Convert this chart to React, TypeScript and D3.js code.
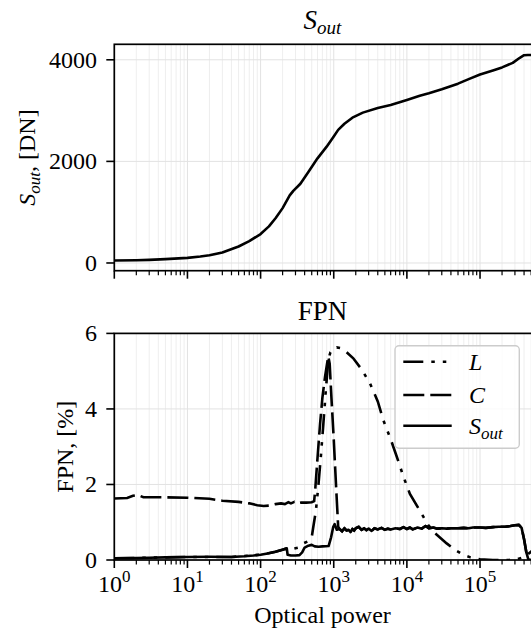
import React from "react";
import * as d3 from "d3";

// ---------- data ----------
const X_MAX = 5.2e5;
const X_MAJOR = [1, 10, 100, 1000, 10000, 100000];
const X_EXP = ["0", "1", "2", "3", "4", "5"];
const TOP_Y_TICKS = [0, 2000, 4000];
const BOT_Y_TICKS = [0, 2, 4, 6];

// top panel: S_out [DN] vs optical power
const SOUT_DN: [number, number][] = [
  [1, 50], [2, 55], [3, 62], [5, 75], [10, 100], [15, 128], [20, 152], [30, 205],
  [50, 325], [70, 430], [100, 570], [130, 720], [160, 880], [200, 1080], [250, 1330],
  [280, 1420], [350, 1560], [450, 1790], [600, 2060], [800, 2290], [1000, 2490],
  [1150, 2620], [1400, 2740], [1800, 2860], [2500, 2960], [4000, 3050], [6000, 3110],
  [10000, 3210], [15000, 3290], [20000, 3340], [30000, 3420], [50000, 3530],
  [70000, 3620], [100000, 3710], [150000, 3790], [200000, 3850], [280000, 3940],
  [350000, 4040], [400000, 4090], [450000, 4095], [520000, 4095],
];

// bottom panel: FPN [%]
const FPN_L: [number, number][] = [
  [1, 0.045], [10, 0.08], [40, 0.08], [100, 0.14], [160, 0.22], [228, 0.31], [280, 0.3],
  [330, 0.33], [384, 0.44], [450, 0.5], [500, 0.6], [526, 0.88], [570, 1.3], [615, 1.94],
  [670, 2.8], [721, 3.6], [780, 4.5], [843, 5.3], [900, 5.5], [1000, 5.6], [1100, 5.63],
  [1300, 5.6], [1500, 5.5], [1850, 5.34], [2400, 5.05], [3130, 4.68], [4000, 4.2],
  [4767, 3.7], [6000, 3.2], [7260, 2.74], [9000, 2.2], [11000, 1.75], [15100, 1.3],
  [19700, 0.92], [24500, 0.7], [35000, 0.44], [48000, 0.24], [60000, 0.13], [74000, 0.07],
  [100000, 0.02], [150000, 0.0], [250000, 0.0], [320000, 0.02], [400000, 0.08],
  [450000, 0.15], [520000, 0.25],
];

const FPN_C: [number, number][] = [
  [1, 1.63], [1.5, 1.64], [1.8, 1.7], [2.1, 1.72], [2.5, 1.66], [5, 1.66], [10, 1.65],
  [20, 1.62], [30, 1.57], [50, 1.54], [70, 1.5], [90, 1.45], [110, 1.43], [130, 1.44],
  [160, 1.48], [190, 1.5], [215, 1.48], [240, 1.53], [260, 1.5], [290, 1.54], [320, 1.5],
  [360, 1.52], [420, 1.52], [500, 1.53], [540, 1.56], [560, 1.9], [600, 2.7], [650, 3.6],
  [700, 4.3], [760, 4.85], [840, 5.39], [880, 5.2], [930, 4.3], [1000, 3.2], [1080, 1.9],
  [1150, 0.88], [1200, 0.82], [1300, 0.76], [1400, 0.84], [1500, 0.78], [1600, 0.8],
  [1700, 0.74], [1800, 0.82], [1900, 0.78], [2000, 0.84], [2200, 0.88], [2400, 0.8],
  [2600, 0.84], [2800, 0.79], [3000, 0.83], [3300, 0.77], [3600, 0.84], [4000, 0.81],
  [4500, 0.85], [5000, 0.8], [5500, 0.83], [6000, 0.81], [7000, 0.84], [8000, 0.82],
  [9000, 0.87], [10000, 0.82], [11000, 0.86], [12000, 0.81], [14000, 0.86], [16000, 0.83],
  [18000, 0.9], [20000, 0.84], [23000, 0.86], [26000, 0.83], [30000, 0.84], [35000, 0.83],
  [40000, 0.84], [50000, 0.84], [60000, 0.85], [70000, 0.84], [80000, 0.86], [100000, 0.86],
  [120000, 0.85], [150000, 0.87], [180000, 0.88], [220000, 0.88], [260000, 0.9],
  [300000, 0.92], [340000, 0.93], [370000, 0.85], [400000, 0.55], [430000, 0.2],
  [460000, 0.0], [520000, 0.0],
];

const FPN_SOUT: [number, number][] = [
  [1, 0.045], [2, 0.05], [3, 0.06], [5, 0.07], [10, 0.08], [20, 0.085], [40, 0.08],
  [60, 0.1], [80, 0.12], [100, 0.14], [130, 0.18], [160, 0.22], [200, 0.27], [228, 0.31],
  [234, 0.14], [260, 0.12], [300, 0.12], [340, 0.13], [370, 0.2], [400, 0.33], [450, 0.38],
  [500, 0.4], [550, 0.36], [620, 0.35], [700, 0.36], [850, 0.37], [920, 0.6], [985, 0.88],
  [1030, 0.95], [1100, 0.8], [1200, 0.82], [1300, 0.76], [1400, 0.84], [1500, 0.78],
  [1600, 0.8], [1700, 0.74], [1800, 0.82], [1900, 0.78], [2000, 0.84], [2200, 0.88],
  [2400, 0.8], [2600, 0.84], [2800, 0.79], [3000, 0.83], [3300, 0.77], [3600, 0.84],
  [4000, 0.81], [4500, 0.85], [5000, 0.8], [5500, 0.83], [6000, 0.81], [7000, 0.84],
  [8000, 0.82], [9000, 0.87], [10000, 0.82], [11000, 0.86], [12000, 0.81], [14000, 0.86],
  [16000, 0.83], [18000, 0.9], [20000, 0.84], [23000, 0.86], [26000, 0.83], [30000, 0.84],
  [35000, 0.83], [40000, 0.84], [50000, 0.84], [60000, 0.85], [70000, 0.84], [80000, 0.86],
  [100000, 0.86], [120000, 0.85], [150000, 0.87], [180000, 0.88], [220000, 0.88],
  [260000, 0.9], [300000, 0.92], [340000, 0.93], [370000, 0.85], [400000, 0.55],
  [430000, 0.2], [460000, 0.0], [520000, 0.0],
];

// ---------- layout ----------
const W = 531;
const H = 629;
const PL = 114.3;
const PR = 532.4;
const TOP = { t: 44.3, b: 270.7 };
const BOT = { t: 333.4, b: 560 };
const FONT = "'Liberation Serif', 'DejaVu Serif', serif";
const FS = 24;
const FSUB = 17;

const x = d3.scaleLog().domain([1, X_MAX]).range([PL, PR]);
const yTop = d3.scaleLinear().domain([-152, 4305]).range([TOP.b, TOP.t]);
const yBot = d3.scaleLinear().domain([0, 6]).range([BOT.b, BOT.t]);

const MINOR: number[] = [];
for (let e = 0; e <= 5; e++) {
  for (let k = 2; k <= 9; k++) {
    const v = k * Math.pow(10, e);
    if (v <= X_MAX) MINOR.push(v);
  }
}

function Panel({ y, yTicks, box, clipId, children }: any) {
  return (
    <g>
      <defs>
        <clipPath id={clipId}>
          <rect x={PL} y={box.t} width={PR - PL} height={box.b - box.t} />
        </clipPath>
      </defs>
      {MINOR.map((v) => (
        <line key={"mg" + v} x1={x(v)} x2={x(v)} y1={box.t} y2={box.b} stroke="#ececec" strokeWidth={0.9} />
      ))}
      {X_MAJOR.map((v) => (
        <line key={"Mg" + v} x1={x(v)} x2={x(v)} y1={box.t} y2={box.b} stroke="#e2e2e2" strokeWidth={1} />
      ))}
      {yTicks.map((t: number) => (
        <line key={"yg" + t} x1={PL} x2={PR} y1={y(t)} y2={y(t)} stroke="#e2e2e2" strokeWidth={1} />
      ))}
      <g clipPath={`url(#${clipId})`}>{children}</g>
      <rect x={PL} y={box.t} width={PR - PL} height={box.b - box.t} fill="none" stroke="#000" strokeWidth={1.7} />
      {yTicks.map((t: number) => (
        <line key={"yt" + t} x1={PL - 8} x2={PL} y1={y(t)} y2={y(t)} stroke="#000" strokeWidth={1.6} />
      ))}
      {X_MAJOR.map((v) => (
        <line key={"xt" + v} x1={x(v)} x2={x(v)} y1={box.b} y2={box.b + 8} stroke="#000" strokeWidth={1.6} />
      ))}
      {MINOR.map((v) => (
        <line key={"xm" + v} x1={x(v)} x2={x(v)} y1={box.b} y2={box.b + 4.6} stroke="#000" strokeWidth={1.2} />
      ))}
      {yTicks.map((t: number) => (
        <text key={"yl" + t} x={97} y={y(t) + 8} textAnchor="end" fontSize={FS} fontFamily={FONT}>
          {String(t)}
        </text>
      ))}
    </g>
  );
}

export default function App() {
  const lineTop = d3
    .line<[number, number]>()
    .x((d) => x(d[0]))
    .y((d) => yTop(d[1]));
  const lineBot = d3
    .line<[number, number]>()
    .x((d) => x(d[0]))
    .y((d) => yBot(d[1]));

  const LW = 2.6;
  const dashL = "20 8 3.5 8 3.5 8";
  const dashC = "21 6";

  const legendItems = [
    { label: "L", dash: dashL, y: 361.7 },
    { label: "C", dash: dashC, y: 395 },
    { label: "S", sub: "out", dash: undefined, y: 425.7 },
  ];

  return (
    <svg width={W} height={H} style={{ position: "absolute", left: 0, top: 0, background: "#fff" }}>
      <rect x={0} y={0} width={W} height={H} fill="#fff" />
      <text x={322.5} y={29} textAnchor="middle" fontSize={27} fontFamily={FONT} fontStyle="italic">
        S<tspan fontSize={19} dy={5}>out</tspan>
      </text>
      <Panel y={yTop} yTicks={TOP_Y_TICKS} box={TOP} clipId="clipTop">
        <path d={lineTop(SOUT_DN) || ""} fill="none" stroke="#000" strokeWidth={LW} strokeLinejoin="round" />
      </Panel>
      <text
        transform={`translate(35, ${(TOP.t + TOP.b) / 2}) rotate(-90)`}
        textAnchor="middle"
        fontSize={FS}
        fontFamily={FONT}
      >
        <tspan fontStyle="italic">S</tspan>
        <tspan fontStyle="italic" fontSize={FSUB} dy={5}>out</tspan>
        <tspan dy={-5}>, [DN]</tspan>
      </text>

      <text x={322.5} y={320} textAnchor="middle" fontSize={27} fontFamily={FONT}>
        FPN
      </text>
      <Panel y={yBot} yTicks={BOT_Y_TICKS} box={BOT} clipId="clipBot">
        <path d={lineBot(FPN_L) || ""} fill="none" stroke="#000" strokeWidth={LW} strokeDasharray={dashL} />
        <path d={lineBot(FPN_C) || ""} fill="none" stroke="#000" strokeWidth={LW} strokeDasharray={dashC} />
        <path d={lineBot(FPN_SOUT) || ""} fill="none" stroke="#000" strokeWidth={LW} strokeLinejoin="round" />
      </Panel>
      <text
        transform={`translate(73, ${(BOT.t + BOT.b) / 2}) rotate(-90)`}
        textAnchor="middle"
        fontSize={FS}
        fontFamily={FONT}
      >
        FPN, [%]
      </text>
      {X_MAJOR.map((v, i) => (
        <text key={"xl" + v} x={x(v)} y={592} textAnchor="middle" fontSize={FS} fontFamily={FONT}>
          10<tspan fontSize={FSUB} dy={-10}>{X_EXP[i]}</tspan>
        </text>
      ))}
      <text x={322.5} y={623} textAnchor="middle" fontSize={FS} fontFamily={FONT}>
        Optical power
      </text>

      <rect x={395} y={345.7} width={124.3} height={102.6} rx={4} fill="#fff" fillOpacity={0.8} stroke="#cccccc" strokeWidth={1.4} />
      {legendItems.map((it) => (
        <g key={it.label}>
          <line x1={403.3} x2={451.7} y1={it.y} y2={it.y} stroke="#000" strokeWidth={LW} strokeDasharray={it.dash} />
          <text x={469} y={it.y + 8} fontSize={FS} fontFamily={FONT} fontStyle="italic">
            {it.label}
            {it.sub ? <tspan fontSize={FSUB} dy={5}>{it.sub}</tspan> : null}
          </text>
        </g>
      ))}
    </svg>
  );
}
